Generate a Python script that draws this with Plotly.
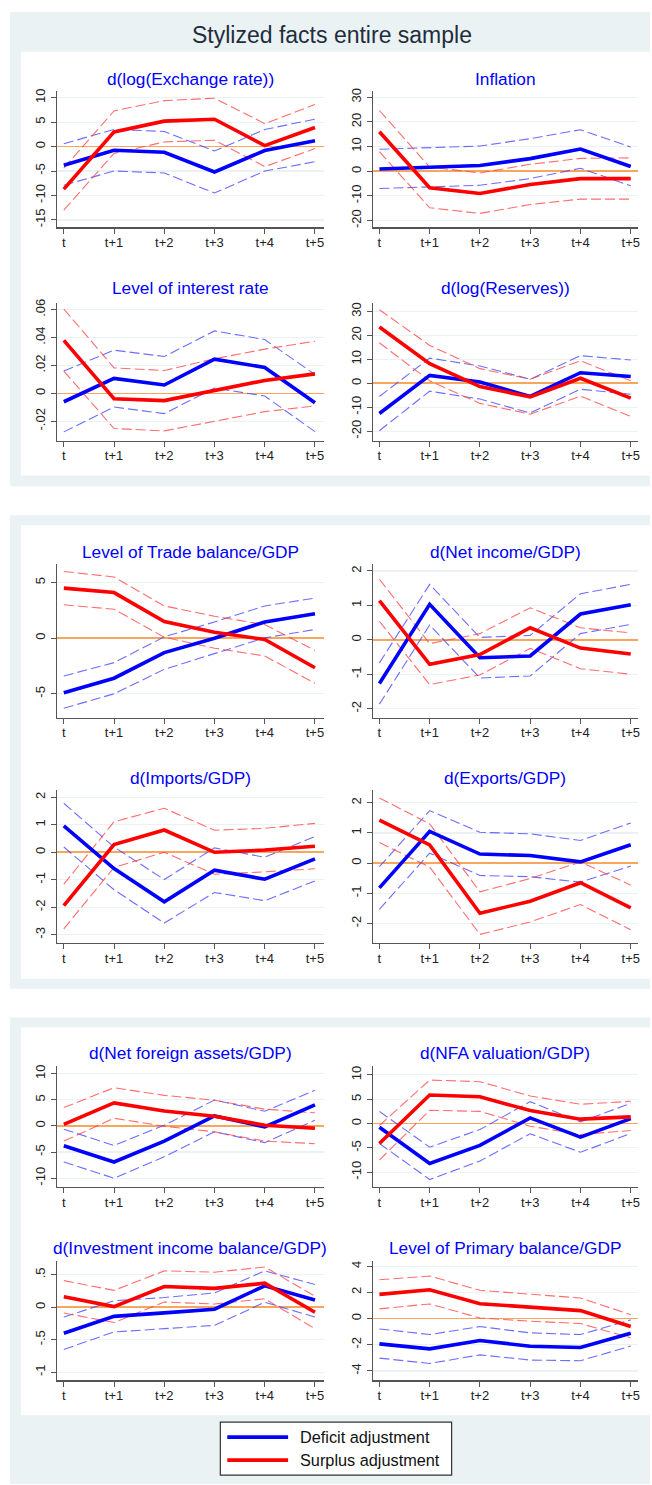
import plotly.graph_objects as go

W, H = 652, 1485

periods = ["t", "t+1", "t+2", "t+3", "t+4", "t+5"]
xpos = [0, 1, 2, 3, 4, 5]

# 1 d(log(Exchange rate))
exch_def = [-3.8, -0.75, -1.15, -5.2, -0.8, 1.2]
exch_def_hi = [0.6, 3.5, 3.1, -0.9, 3.5, 5.6]
exch_def_lo = [-7.9, -5.0, -5.4, -9.5, -5.0, -3.1]
exch_sur = [-8.7, 3.0, 5.2, 5.6, 0.2, 3.9]
exch_sur_hi = [-4.4, 7.3, 9.4, 9.9, 4.7, 8.6]
exch_sur_lo = [-13.0, -1.4, 0.95, 1.3, -4.1, -0.4]

# 2 Inflation
infl_def = [0.9, 1.7, 2.3, 5.1, 9.0, 1.9]
infl_def_hi = [8.9, 9.6, 10.2, 13.2, 16.8, 9.8]
infl_def_lo = [-7.0, -6.2, -5.7, -3.0, 1.2, -5.9]
infl_sur = [16.0, -6.7, -9.0, -5.4, -3.0, -3.0]
infl_sur_hi = [24.6, 1.7, -0.7, 2.8, 5.2, 5.4]
infl_sur_lo = [7.9, -14.8, -17.1, -13.5, -11.3, -11.3]

# 3 Level of interest rate
intr_def = [-0.006, 0.0107, 0.006, 0.0245, 0.0186, -0.0067]
intr_def_hi = [0.016, 0.031, 0.0264, 0.0448, 0.0386, 0.0135]
intr_def_lo = [-0.0276, -0.0098, -0.0145, 0.0038, -0.0019, -0.0274]
intr_sur = [0.038, -0.0038, -0.0052, 0.0021, 0.0093, 0.014]
intr_sur_hi = [0.0605, 0.0183, 0.0164, 0.0248, 0.0317, 0.0374]
intr_sur_lo = [0.016, -0.0252, -0.0269, -0.02, -0.0131, -0.009]

# 4 d(log(Reserves))
resv_def = [-12.6, 3.3, 0.55, -5.5, 4.4, 2.8]
resv_def_hi = [-5.5, 10.5, 7.2, 1.7, 11.5, 9.7]
resv_def_lo = [-19.8, -3.3, -6.6, -12.4, -2.5, -4.6]
resv_sur = [23.5, 8.2, -1.4, -5.7, 2.1, -6.2]
resv_sur_hi = [30.7, 15.8, 6.1, 1.7, 9.4, 1.0]
resv_sur_lo = [16.9, 1.0, -8.4, -12.9, -5.4, -13.8]

# 5 Level of Trade balance/GDP
trade_def = [-4.9, -3.6, -1.3, 0.0, 1.46, 2.2]
trade_def_hi = [-3.4, -2.2, 0.12, 1.46, 2.9, 3.6]
trade_def_lo = [-6.3, -5.0, -2.8, -1.4, 0.03, 0.78]
trade_sur = [4.5, 4.1, 1.5, 0.54, -0.12, -2.66]
trade_sur_hi = [6.0, 5.5, 2.9, 1.97, 1.22, -1.1]
trade_sur_lo = [3.0, 2.6, 0.09, -0.9, -1.6, -4.06]

# 6 d(Net income/GDP)
ninc_def = [-1.27, 1.03, -0.52, -0.47, 0.75, 1.02]
ninc_def_hi = [-0.67, 1.61, 0.07, 0.13, 1.34, 1.61]
ninc_def_lo = [-1.87, 0.43, -1.11, -1.05, 0.18, 0.45]
ninc_sur = [1.14, -0.71, -0.43, 0.35, -0.24, -0.41]
ninc_sur_hi = [1.76, -0.11, 0.18, 0.93, 0.35, 0.2]
ninc_sur_lo = [0.54, -1.3, -1.02, -0.25, -0.84, -1.0]

# 7 d(Imports/GDP)
imp_def = [0.96, -0.59, -1.8, -0.65, -0.98, -0.24]
imp_def_hi = [1.78, 0.19, -0.99, 0.16, -0.18, 0.57]
imp_def_lo = [0.19, -1.36, -2.57, -1.46, -1.76, -1.04]
imp_sur = [-1.94, 0.28, 0.81, 0.0, 0.08, 0.22]
imp_sur_hi = [-1.16, 1.11, 1.6, 0.8, 0.87, 1.05]
imp_sur_lo = [-2.78, -0.55, 0.0, -0.8, -0.71, -0.6]

# 8 d(Exports/GDP)
exp_def = [-0.82, 1.05, 0.3, 0.25, 0.04, 0.61]
exp_def_hi = [-0.12, 1.74, 1.02, 0.97, 0.75, 1.33]
exp_def_lo = [-1.53, 0.33, -0.41, -0.45, -0.63, -0.1]
exp_sur = [1.42, 0.6, -1.66, -1.26, -0.65, -1.48]
exp_sur_hi = [2.16, 1.3, -0.95, -0.51, 0.04, -0.73]
exp_sur_lo = [0.68, -0.13, -2.36, -1.95, -1.37, -2.21]

# 9 d(Net foreign assets/GDP)
nfa_def = [-3.8, -6.9, -2.9, 1.9, -0.2, 4.0]
nfa_def_hi = [-0.63, -3.75, 0.13, 4.95, 2.8, 6.8]
nfa_def_lo = [-6.9, -10.0, -5.9, -1.14, -3.2, 1.08]
nfa_sur = [0.3, 4.4, 2.86, 1.84, 0.13, -0.44]
nfa_sur_hi = [3.5, 7.3, 5.84, 4.9, 3.2, 2.5]
nfa_sur_lo = [-2.9, 1.46, -0.06, -1.14, -2.9, -3.4]

# 10 d(NFA valuation/GDP)
val_def = [-0.75, -8.2, -4.5, 1.16, -2.8, 1.0]
val_def_hi = [2.5, -4.85, -1.23, 4.5, 0.34, 4.16]
val_def_lo = [-4.1, -11.5, -7.7, -2.1, -5.9, -2.05]
val_sur = [-4.1, 5.87, 5.5, 2.66, 0.9, 1.37]
val_sur_hi = [-0.4, 8.94, 8.6, 5.67, 3.96, 4.57]
val_sur_lo = [-7.5, 2.73, 2.5, -0.55, -2.25, -1.43]

# 11 d(Investment income balance/GDP)
inv_def = [-0.4, -0.14, -0.087, -0.03, 0.33, 0.11]
inv_def_hi = [-0.15, 0.1, 0.15, 0.22, 0.56, 0.35]
inv_def_lo = [-0.65, -0.38, -0.33, -0.28, 0.077, -0.15]
inv_sur = [0.16, 0.01, 0.32, 0.29, 0.37, -0.077]
inv_sur_hi = [0.41, 0.26, 0.56, 0.54, 0.62, 0.17]
inv_sur_lo = [-0.09, -0.235, 0.08, 0.05, 0.13, -0.33]

# 12 Level of Primary balance/GDP
prim_def = [-1.93, -2.31, -1.68, -2.11, -2.21, -1.12]
prim_def_hi = [-0.79, -1.22, -0.61, -1.09, -1.22, -0.1]
prim_def_lo = [-3.02, -3.43, -2.77, -3.17, -3.22, -2.1]
prim_sur = [1.85, 2.2, 1.14, 0.86, 0.61, -0.61]
prim_sur_hi = [2.97, 3.25, 2.16, 1.85, 1.57, 0.3]
prim_sur_lo = [0.74, 1.12, 0.05, -0.2, -0.38, -1.47]

titles = ["d(log(Exchange rate))", "Inflation", "Level of interest rate",
          "d(log(Reserves))", "Level of Trade balance/GDP", "d(Net income/GDP)",
          "d(Imports/GDP)", "d(Exports/GDP)", "d(Net foreign assets/GDP)",
          "d(NFA valuation/GDP)", "d(Investment income balance/GDP)",
          "Level of Primary balance/GDP"]

tick_vals = [[-15, -10, -5, 0, 5, 10], [-20, -10, 0, 10, 20, 30],
             [-0.02, 0, 0.02, 0.04, 0.06], [-20, -10, 0, 10, 20, 30],
             [-5, 0, 5], [-2, -1, 0, 1, 2], [-3, -2, -1, 0, 1, 2],
             [-2, -1, 0, 1, 2], [-10, -5, 0, 5, 10], [-10, -5, 0, 5, 10],
             [-1, -0.5, 0, 0.5], [-4, -2, 0, 2, 4]]
tick_text = [["-15", "-10", "-5", "0", "5", "10"], ["-20", "-10", "0", "10", "20", "30"],
             ["-.02", "0", ".02", ".04", ".06"], ["-20", "-10", "0", "10", "20", "30"],
             ["-5", "0", "5"], ["-2", "-1", "0", "1", "2"], ["-3", "-2", "-1", "0", "1", "2"],
             ["-2", "-1", "0", "1", "2"], ["-10", "-5", "0", "5", "10"], ["-10", "-5", "0", "5", "10"],
             ["-1", "-.5", "0", ".5"], ["-4", "-2", "0", "2", "4"]]

series = [
    (exch_def, exch_def_hi, exch_def_lo, exch_sur, exch_sur_hi, exch_sur_lo),
    (infl_def, infl_def_hi, infl_def_lo, infl_sur, infl_sur_hi, infl_sur_lo),
    (intr_def, intr_def_hi, intr_def_lo, intr_sur, intr_sur_hi, intr_sur_lo),
    (resv_def, resv_def_hi, resv_def_lo, resv_sur, resv_sur_hi, resv_sur_lo),
    (trade_def, trade_def_hi, trade_def_lo, trade_sur, trade_sur_hi, trade_sur_lo),
    (ninc_def, ninc_def_hi, ninc_def_lo, ninc_sur, ninc_sur_hi, ninc_sur_lo),
    (imp_def, imp_def_hi, imp_def_lo, imp_sur, imp_sur_hi, imp_sur_lo),
    (exp_def, exp_def_hi, exp_def_lo, exp_sur, exp_sur_hi, exp_sur_lo),
    (nfa_def, nfa_def_hi, nfa_def_lo, nfa_sur, nfa_sur_hi, nfa_sur_lo),
    (val_def, val_def_hi, val_def_lo, val_sur, val_sur_hi, val_sur_lo),
    (inv_def, inv_def_hi, inv_def_lo, inv_sur, inv_sur_hi, inv_sur_lo),
    (prim_def, prim_def_hi, prim_def_lo, prim_sur, prim_sur_hi, prim_sur_lo),
]

# ---- layout geometry (pixels) ----
y_ranges = [[-16.5, 11.37], [-22.7, 32.5], [-0.0338, 0.0648], [-23.9, 33.5],
            [-7.14, 6.66], [-2.26, 2.20], [-3.29, 2.25], [-2.64, 2.41],
            [-11.68, 11.37], [-13.04, 11.74], [-1.126, 0.716], [-4.72, 4.42]]
rows_px = [(87.3, 224), (300, 438), (562, 716), (789, 942), (1066, 1187), (1261, 1381)]
title_y_px = [75, 285, 550, 777, 1053, 1248]
cols_px = [(57, 325), (374, 640)]
x_ranges = [[-0.139, 5.18], [-0.13, 5.145]]

FONT = "Liberation Sans, Arial, Helvetica, sans-serif"
BG = "#EAF2F3"
BLUE = "#0000FF"
RED = "#FF0000"
BLUE_CI = "rgba(60,60,255,0.75)"
RED_CI = "rgba(255,60,60,0.75)"
ORANGE = "#F7A65E"
AXIS = "#555555"


def px_x(p):
    return p / W


def px_y(p):
    return 1 - p / H


fig = go.Figure()
layout = {}
annotations = []

for i in range(12):
    r, c = divmod(i, 2)
    k = "" if i == 0 else str(i + 1)
    xa, ya = "x" + k, "y" + k
    d_, dhi, dlo, s_, shi, slo = series[i]
    for yv, col, w, dash in [(dhi, BLUE_CI, 1.1, "10px,4px"), (dlo, BLUE_CI, 1.1, "10px,4px"),
                             (shi, RED_CI, 1.1, "10px,4px"), (slo, RED_CI, 1.1, "10px,4px"),
                             (d_, BLUE, 3.6, "solid"), (s_, RED, 3.6, "solid")]:
        fig.add_trace(go.Scatter(x=xpos, y=yv, mode="lines", xaxis=xa, yaxis=ya,
                                 line=dict(color=col, width=w, dash=dash),
                                 showlegend=False, hoverinfo="skip"))
    x0p, x1p = cols_px[c]
    ytop, ybot = rows_px[r]
    layout["xaxis" + k] = dict(
        domain=[px_x(x0p), px_x(x1p)], range=x_ranges[c], anchor=ya,
        tickmode="array", tickvals=xpos, ticktext=periods,
        showline=True, linecolor=AXIS, linewidth=1.3, ticks="outside", ticklen=5,
        tickcolor=AXIS, showgrid=False, zeroline=False, ticklabelstandoff=-2,
        tickfont=dict(family=FONT, size=13, color="#222222"), fixedrange=True)
    layout["yaxis" + k] = dict(
        domain=[px_y(ybot), px_y(ytop)], range=y_ranges[i], anchor=xa,
        tickmode="array", tickvals=tick_vals[i], ticktext=tick_text[i], tickangle=-90,
        showline=True, linecolor=AXIS, linewidth=1.3, ticks="outside", ticklen=5,
        tickcolor=AXIS, showgrid=True, gridcolor=BG, gridwidth=1.2,
        zeroline=True, zerolinecolor=ORANGE, zerolinewidth=1.6,
        tickfont=dict(family=FONT, size=13, color="#222222"), fixedrange=True)
    annotations.append(dict(text=titles[i], x=px_x((x0p + x1p) / 2), y=px_y(title_y_px[r]),
                            xref="paper", yref="paper", showarrow=False,
                            xanchor="center", yanchor="middle",
                            font=dict(family=FONT, size=17.3, color=BLUE)))

# main title
annotations.append(dict(text="Stylized facts entire sample", x=px_x(333), y=px_y(31),
                        xref="paper", yref="paper", showarrow=False,
                        xanchor="center", yanchor="middle",
                        font=dict(family=FONT, size=23, color="#1F2D3D")))

shapes = []
# background panels
for (g0, g1, w0, w1) in [(8, 484, 48, 473), (513, 988, 523, 978), (1017, 1485, 1027, 1416)]:
    shapes.append(dict(type="rect", xref="paper", yref="paper", layer="below",
                       x0=px_x(10), x1=px_x(652), y0=px_y(g1), y1=px_y(g0),
                       fillcolor=BG, line=dict(width=0)))
    shapes.append(dict(type="rect", xref="paper", yref="paper", layer="below",
                       x0=px_x(21), x1=px_x(652), y0=px_y(w1), y1=px_y(w0),
                       fillcolor="white", line=dict(width=0)))

# legend box
shapes.append(dict(type="rect", xref="paper", yref="paper", layer="above",
                   x0=px_x(221), x1=px_x(453), y0=px_y(1476), y1=px_y(1423),
                   fillcolor="white", line=dict(color="#333333", width=1.2)))
legend_items = [("Deficit adjustment", BLUE, 1438), ("Surplus adjustment", RED, 1461)]
for name, col, yy in legend_items:
    shapes.append(dict(type="line", xref="paper", yref="paper", layer="above",
                       x0=px_x(228), x1=px_x(289), y0=px_y(yy), y1=px_y(yy),
                       line=dict(color=col, width=3.6)))
    annotations.append(dict(text=name, x=px_x(299), y=px_y(yy), xref="paper", yref="paper",
                            showarrow=False, xanchor="left", yanchor="middle",
                            font=dict(family=FONT, size=16.3, color="#111111")))

fig.update_layout(
    width=W, height=H, margin=dict(l=0, r=0, t=0, b=0),
    paper_bgcolor="white", plot_bgcolor="rgba(0,0,0,0)",
    showlegend=False, shapes=shapes, annotations=annotations, **layout)

fig.write_html("out.html", config={"displayModeBar": False, "staticPlot": True},
               post_script="document.body.style.margin='0';document.body.style.overflow='hidden';")
